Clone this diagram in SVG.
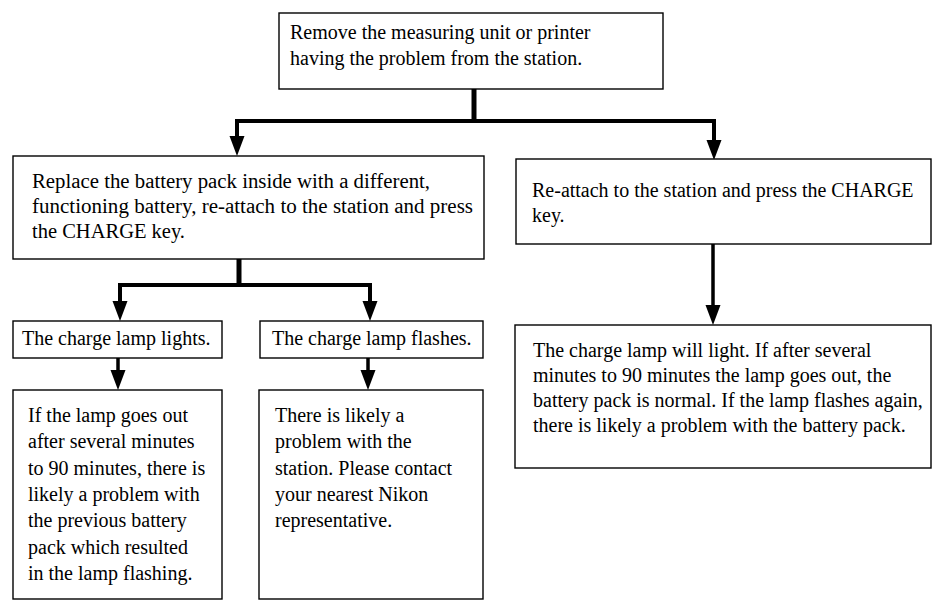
<svg xmlns="http://www.w3.org/2000/svg" width="932" height="606" viewBox="0 0 932 606">
  <style>
    .box { fill: #ffffff; stroke: #000000; stroke-width: 1.4; }
    .t { font-family: "Liberation Serif", "Times New Roman", serif; font-size: 20px; fill: #000000; }
    .stem { fill: none; stroke: #000000; stroke-width: 5; }
    .bus { fill: none; stroke: #000000; stroke-width: 4; stroke-linejoin: miter; }
    .drop { fill: none; stroke: #000000; stroke-width: 3.5; }
  </style>
  <defs>
    <marker id="arrow" markerUnits="userSpaceOnUse" markerWidth="22" markerHeight="16" refX="2" refY="7.5" orient="auto">
      <path d="M0,0 L20,7.5 L0,15 Z" fill="#000000"/>
    </marker>
  </defs>
  <rect width="932" height="606" fill="#ffffff"/>

  <g id="connectors">
    <line class="stem" x1="474" y1="89" x2="474" y2="121"/>
    <path class="bus" d="M474,121 H237 V138" marker-end="url(#arrow)"/>
    <path class="bus" d="M474,121 H714 V142" marker-end="url(#arrow)"/>
    <line class="stem" x1="239" y1="259" x2="239" y2="285"/>
    <path class="bus" d="M239,285 H120 V303" marker-end="url(#arrow)"/>
    <path class="bus" d="M239,285 H370 V303" marker-end="url(#arrow)"/>
    <line class="drop" x1="118" y1="358" x2="118" y2="372" marker-end="url(#arrow)"/>
    <line class="drop" x1="368" y1="358" x2="368" y2="372" marker-end="url(#arrow)"/>
    <line class="drop" x1="713" y1="244" x2="713" y2="307" marker-end="url(#arrow)"/>
  </g>

  <g id="n-remove">
    <rect class="box" x="279" y="13" width="384" height="76"/>
    <text class="t" x="290" y="39">Remove the measuring unit or printer</text>
    <text class="t" x="290" y="65">having the problem from the station.</text>
  </g>

  <g id="n-replace">
    <rect class="box" x="13" y="156" width="471" height="103"/>
    <text class="t" x="32" y="188" textLength="398" lengthAdjust="spacingAndGlyphs">Replace the battery pack inside with a different,</text>
    <text class="t" x="32" y="213" textLength="441" lengthAdjust="spacingAndGlyphs">functioning battery, re-attach to the station and press</text>
    <text class="t" x="32" y="238" textLength="153" lengthAdjust="spacingAndGlyphs">the CHARGE key.</text>
  </g>

  <g id="n-reattach">
    <rect class="box" x="516" y="159" width="415" height="85"/>
    <text class="t" x="532" y="197">Re-attach to the station and press the CHARGE</text>
    <text class="t" x="532" y="222">key.</text>
  </g>

  <g id="n-lights">
    <rect class="box" x="13" y="321" width="209" height="37"/>
    <text class="t" x="22" y="345">The charge lamp lights.</text>
  </g>

  <g id="n-flashes">
    <rect class="box" x="260" y="321" width="223" height="37"/>
    <text class="t" x="272" y="345">The charge lamp flashes.</text>
  </g>

  <g id="n-previous">
    <rect class="box" x="13" y="390" width="209" height="209"/>
    <text class="t" x="28" y="422">If the lamp goes out</text>
    <text class="t" x="28" y="448">after several minutes</text>
    <text class="t" x="28" y="475">to 90 minutes, there is</text>
    <text class="t" x="28" y="501">likely a problem with</text>
    <text class="t" x="28" y="527">the previous battery</text>
    <text class="t" x="28" y="554">pack which resulted</text>
    <text class="t" x="28" y="580">in the lamp flashing.</text>
  </g>

  <g id="n-station">
    <rect class="box" x="259" y="390" width="224" height="209"/>
    <text class="t" x="275" y="422">There is likely a</text>
    <text class="t" x="275" y="448">problem with the</text>
    <text class="t" x="275" y="475">station. Please contact</text>
    <text class="t" x="275" y="501">your nearest Nikon</text>
    <text class="t" x="275" y="527">representative.</text>
  </g>

  <g id="n-willlight">
    <rect class="box" x="515" y="325" width="416" height="143"/>
    <text class="t" x="533" y="357">The charge lamp will light. If after several</text>
    <text class="t" x="533" y="382">minutes to 90 minutes the lamp goes out, the</text>
    <text class="t" x="533" y="407">battery pack is normal. If the lamp flashes again,</text>
    <text class="t" x="533" y="432">there is likely a problem with the battery pack.</text>
  </g>
</svg>
